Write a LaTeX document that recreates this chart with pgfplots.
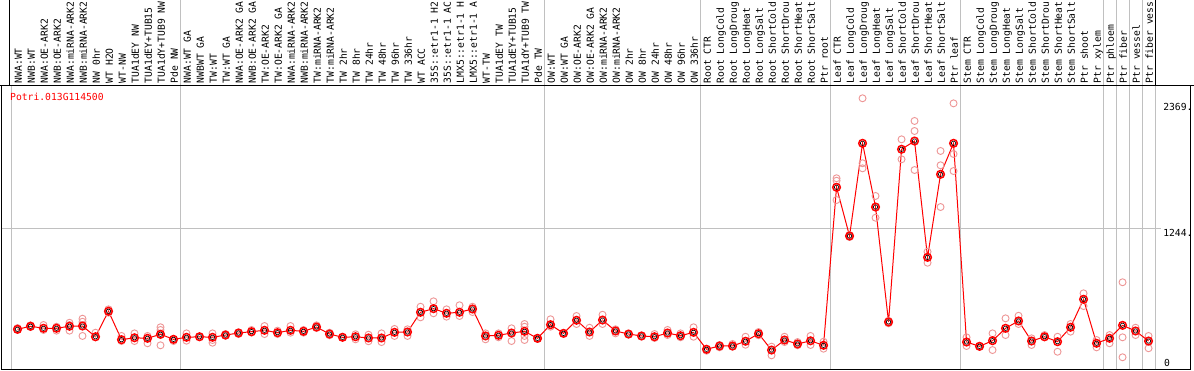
\documentclass[border=0pt]{standalone}
\usepackage{fontspec}
\setmonofont{DejaVu Sans Mono}
\usepackage{pgfplots}
\usepackage{pgfplotstable}
\pgfplotsset{compat=1.18}
\definecolor{rep}{RGB}{238,150,150}
\definecolor{gridc}{RGB}{192,192,192}
\newcommand\lf{\ttfamily\fontsize{9.7pt}{10pt}\selectfont}

\pgfplotstableread{
x y
0 352
1 379
2 361
3 361
4 379
5 381
6 286
7 512
8 260
9 277
10 272
11 308
12 263
13 281
14 286
15 281
16 301
17 319
18 331
19 343
20 322
21 343
22 334
23 372
24 310
25 281
26 286
27 275
28 275
29 325
30 328
31 503
32 535
33 494
34 503
35 532
36 293
37 299
38 319
39 334
40 272
41 393
42 316
43 432
44 328
45 434
46 337
47 310
48 293
49 286
50 319
51 295
52 325
53 175
54 204
55 204
56 246
57 313
58 168
59 257
60 222
61 250
62 210
63 1611
64 1179
65 2001
66 1436
67 417
68 1948
69 2021
70 990
71 1726
72 2001
73 239
74 201
75 251
76 361
77 426
78 248
79 286
80 242
81 370
82 618
83 228
84 272
85 387
86 337
87 248
}\means

\pgfplotstableread{
x y
0 363
0 346
1 387
1 372
2 390
2 346
3 375
3 340
4 410
4 390
4 340
5 446
5 419
5 293
6 322
6 281
7 529
7 499
8 293
8 248
9 316
9 248
10 293
10 228
11 370
11 346
11 301
11 210
12 263
12 248
13 316
13 251
14 286
14 284
15 316
15 257
15 233
16 310
16 295
17 325
17 310
18 346
18 322
19 381
19 310
20 340
20 310
21 381
21 322
22 346
22 322
23 387
23 363
24 322
24 299
25 281
25 284
26 308
26 263
27 304
27 246
28 316
28 239
29 355
29 293
30 352
30 293
31 552
31 458
32 600
32 494
33 529
33 464
34 565
34 470
35 552
35 505
36 316
36 263
37 316
37 281
38 361
38 248
39 399
39 375
39 293
39 257
40 272
40 266
41 441
41 375
42 316
42 319
43 470
43 399
44 366
44 293
45 481
45 399
46 352
46 316
47 310
47 306
48 293
48 288
49 310
49 275
50 346
50 301
51 316
51 281
52 370
52 286
53 175
53 162
54 213
54 192
55 222
55 198
56 286
56 215
57 328
57 299
58 198
58 121
59 286
59 239
60 239
60 210
61 293
61 213
62 242
62 180
63 1691
63 1669
63 1498
64 1188
64 1170
65 2400
65 1824
65 1779
66 1534
66 1341
67 428
67 405
68 2036
68 1859
69 2199
69 2110
69 1764
70 1040
70 942
71 1933
71 1806
71 1436
72 2355
72 1906
72 1755
73 281
73 204
74 198
74 204
75 316
75 168
76 449
76 301
77 472
77 399
78 272
78 213
79 301
79 281
80 286
80 153
81 399
81 331
82 671
82 558
83 257
83 192
84 301
84 228
85 769
85 281
85 104
86 366
86 301
87 293
87 184
}\reps

\begin{document}
\begin{tikzpicture}
\useasboundingbox (0pt,0pt) rectangle (1194pt,370pt);
\fill[white] (0pt,0pt) rectangle (1194pt,370pt);
\begin{axis}[
  at={(1.5pt,1pt)}, anchor=south west,
  scale only axis, width=1189pt, height=284pt,
  xmin=-1.2308, xmax=90.2308, ymin=0, ymax=2517.7,
  clip=false,
  axis line style={black, line width=1pt},
  xtick={0,...,87},
  xticklabels={NWA:WT, NWB:WT, NWA:OE-ARK2, NWB:OE-ARK2, NWA:miRNA-ARK2, NWB:miRNA-ARK2, NW 0hr, WT H2O, WT-NW, TUA1dEY NW, TUA1dEY+TUB15, TUA1dY+TUB9 NW, Pde NW, NWA:WT GA, NWBWT GA, TW:WT, TW:WT GA, NWA:OE-ARK2 GA, NWB:OE-ARK2 GA, TW:OE-ARK2, TW:OE-ARK2 GA, NWA:miRNA-ARK2, NWB:miRNA-ARK2, TW:miRNA-ARK2, TW:miRNA-ARK2, TW 2hr, TW 8hr, TW 24hr, TW 48hr, TW 96hr, TW 336hr, WT ACC, 35S::etr1-1 H2, 35S::etr1-1 AC, LMX5::etr1-1 H, LMX5::etr1-1 A, WT-TW, TUA1dEY TW, TUA1dEY+TUB15, TUA1dY+TUB9 TW, Pde TW, OW:WT, OW:WT GA, OW:OE-ARK2, OW:OE-ARK2 GA, OW:miRNA-ARK2, OW:miRNA-ARK2, OW 2hr, OW 8hr, OW 24hr, OW 48hr, OW 96hr, OW 336hr, Root CTR, Root LongCold, Root LongDroug, Root LongHeat, Root LongSalt, Root ShortCold, Root ShortDrou, Root ShortHeat, Root ShortSalt, Ptr root, Leaf CTR, Leaf LongCold, Leaf LongDroug, Leaf LongHeat, Leaf LongSalt, Leaf ShortCold, Leaf ShortDrou, Leaf ShortHeat, Leaf ShortSalt, Ptr leaf, Stem CTR, Stem LongCold, Stem LongDroug, Stem LongHeat, Stem LongSalt, Stem ShortCold, Stem ShortDrou, Stem ShortHeat, Stem ShortSalt, Ptr shoot, Ptr xylem, Ptr phloem, Ptr fiber, Ptr vessel, Ptr fiber vess},
  xticklabel pos=upper,
  xticklabel style={rotate=90, anchor=west, inner sep=0pt, text height=8.8pt, text depth=0pt, font=\lf},
  xticklabel shift=1.5pt,
  ytick=\empty,
  major tick length=0pt,
  tick style={draw=none},
]
% grid lines in plot area
\pgfplotsinvokeforeach{-0.5,12.5,40.5,52.5,62.5,72.5,83.5,84.5,85.5,86.5,87.5}{
  \draw[gridc, line width=1pt] (axis cs:#1,0) -- (axis cs:#1,2517.7);
}
% grid lines in header
\pgfplotsinvokeforeach{12.5,40.5,52.5,62.5,72.5,83.5,84.5,85.5,86.5}{
  \draw[gridc, line width=1pt] (axis cs:#1,2517.7) -- ([yshift=85pt]axis cs:#1,2517.7);
}
\draw[black, line width=1pt] (axis cs:87.5,2517.7) -- ([yshift=85pt]axis cs:87.5,2517.7);
\draw[black, line width=1pt] (axis cs:-0.6538,2517.7) -- ([yshift=85pt]axis cs:-0.6538,2517.7);
\draw[gridc, line width=1pt] (axis cs:-1.2308,1244) -- (axis cs:87.96,1244);
\draw[black, line width=1pt] (axis cs:-1.3462,2517.7) -- (axis cs:90.5,2517.7);

\addplot[only marks, mark=o, mark size=3.5pt, color=rep, mark options={line width=0.9pt}] table {\reps};
\addplot[red, line width=1pt, mark=o, mark size=3.8pt, mark options={line width=1.5pt}] table {\means};
\addplot[only marks, mark=o, mark size=2.2pt, color=black, mark options={line width=0.6pt}] table {\means};

\node[anchor=base west, inner sep=0pt, text=red, font=\lf] at (axis cs:-0.577,2378) {Potri.013G114500};
\node[anchor=base west, inner sep=0pt, font=\lf] at (axis cs:88.115,2290) {2369.};
\node[anchor=base west, inner sep=0pt, font=\lf] at (axis cs:88.115,1173) {1244.};
\node[anchor=base west, inner sep=0pt, font=\lf] at (axis cs:88.19,26.6) {0};
\end{axis}
\end{tikzpicture}
\end{document}
